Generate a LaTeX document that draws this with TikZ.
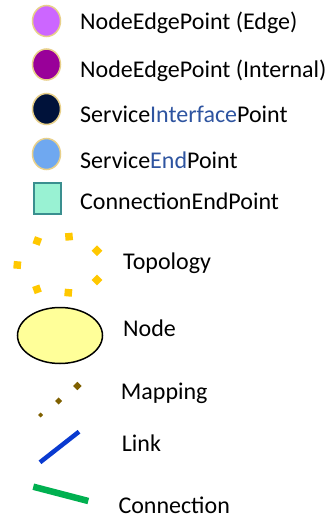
\documentclass[tikz,border=0pt]{standalone}
\usepackage{fontspec}
\setmainfont{Carlito}
\usetikzlibrary{shapes.geometric}
\definecolor{ringgold}{HTML}{E8D08A}
\definecolor{nepedge}{HTML}{CC66FF}
\definecolor{nepint}{HTML}{990099}
\definecolor{sipnavy}{HTML}{00123A}
\definecolor{sepblue}{HTML}{6FA8F0}
\definecolor{cepfill}{HTML}{99F2D3}
\definecolor{cepline}{HTML}{3A8F8F}
\definecolor{txtblue}{HTML}{2E54A0}
\definecolor{topogold}{HTML}{FFC800}
\definecolor{mapolive}{HTML}{7F6000}
\definecolor{linkblue}{HTML}{0A3AD0}
\definecolor{connGreen}{HTML}{00B050}
\definecolor{nodeyellow}{HTML}{FFFF99}
\tikzset{
  pointmark/.style={ellipse, draw=ringgold, line width=1.5pt, minimum width=28pt, minimum height=31pt, inner sep=0pt},
  legtext/.style={anchor=base west, inner sep=0pt, font=\fontsize{24}{28}\selectfont, text=black},
  topodot/.style={fill=topogold, minimum size=7.5pt, inner sep=0pt, draw=none, rectangle},
  mapdot/.style={fill=mapolive, inner sep=0pt, draw=none, rectangle, rotate=45},
}
\begin{document}
\begin{tikzpicture}[x=1pt,y=-1pt]
\useasboundingbox (0,0) rectangle (331,519);
% point markers
\node[pointmark, fill=nepedge] (nepe) at (46.5,21) {};
\node[legtext] (tnepe) at (80,29.5) {NodeEdgePoint (Edge)};
\node[pointmark, fill=nepint] (nepi) at (46.5,64.5) {};
\node[legtext] (tnepi) at (80,77.7) {NodeEdgePoint (Internal)};
\node[pointmark, fill=sipnavy] (sip) at (46.5,109) {};
\node[legtext] (tsip) at (80,122.7) {Service\textcolor{txtblue}{Interface}Point};
\node[pointmark, fill=sepblue] (sep) at (46.5,154) {};
\node[legtext] (tsep) at (80,168) {Service\textcolor{txtblue}{End}Point};
\node[rectangle, draw=cepline, line width=2pt, fill=cepfill, minimum width=27pt, minimum height=31pt, inner sep=0pt] (cep) at (47,198) {};
\node[legtext] (tcep) at (80,209.5) {ConnectionEndPoint};
% topology
\node[topodot, rotate=-20] (t1) at (37.3,241) {};
\node[topodot, rotate=5] (t2) at (69,236.7) {};
\node[topodot, rotate=45] (t3) at (97,250.7) {};
\node[topodot, rotate=-5] (t4) at (17.3,265) {};
\node[topodot, rotate=45] (t5) at (97,280) {};
\node[topodot, rotate=20] (t6) at (37,289.3) {};
\node[topodot, rotate=-5] (t7) at (68.3,292.7) {};
\node[legtext] (ttopo) at (123,269.3) {Topology};
% node
\node[ellipse, draw=black, line width=1.5pt, fill=nodeyellow, minimum width=85pt, minimum height=56pt, inner sep=0pt] (nd) at (60,335.5) {};
\node[legtext] (tnd) at (123,336) {Node};
% mapping
\node[mapdot, minimum size=6pt] (m1) at (77.3,386) {};
\node[mapdot, minimum size=5pt] (m2) at (58.7,401) {};
\node[mapdot, minimum size=3.5pt] (m3) at (40.7,415) {};
\node[legtext] (tmap) at (120.7,399.3) {Mapping};
% link
\coordinate (la) at (40,462.3);
\coordinate (lb) at (79,431.7);
\draw[linkblue, line width=4.5pt] (la) -- (lb);
\node[legtext] (tlink) at (121.7,451.7) {Link};
% connection
\coordinate (ca) at (33.3,486.7);
\coordinate (cb) at (88.3,501);
\draw[connGreen, line width=6.5pt] (ca) -- (cb);
\node[legtext] (tconn) at (118.3,513.3) {Connection};
\end{tikzpicture}
\end{document}
